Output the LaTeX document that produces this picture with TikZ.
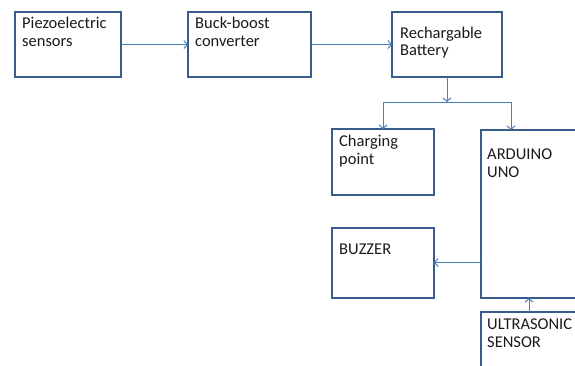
\documentclass[tikz,border=0pt]{standalone}
\usepackage{fontspec}
\setmainfont{Carlito}
\usetikzlibrary{arrows.meta}
\definecolor{boxc}{HTML}{385D8A}
\definecolor{arrc}{HTML}{4A7EBB}
\definecolor{txtc}{HTML}{1A1A1A}
\begin{document}
\begin{tikzpicture}[x=1pt,y=-1pt,
  box/.style={draw=boxc,line width=2pt,anchor=north west,inner sep=0pt,outer sep=0pt},
  lbl/.style={anchor=base west,inner sep=0pt,align=left,text=txtc,
    font=\fontsize{16.5}{17.5}\selectfont},
  arr/.style={draw=arrc,line width=1pt,-{Straight Barb[length=3.5pt,width=8pt]}},
  ln/.style={draw=arrc,line width=1pt}]
\useasboundingbox (0,0) rectangle (575,365);
\clip (0,0) rectangle (575,365);
% boxes
\node[box,minimum width=106pt,minimum height=65pt] (p) at (15,12) {};
\node[box,minimum width=123pt,minimum height=65pt] (b) at (188,12) {};
\node[box,minimum width=110pt,minimum height=65pt] (r) at (392,12) {};
\node[box,minimum width=102pt,minimum height=66pt] (c) at (332,129) {};
\node[box,minimum width=120pt,minimum height=168pt] (a) at (481,130) {};
\node[box,minimum width=102pt,minimum height=70pt] (z) at (332,227.5) {};
\node[box,minimum width=120pt,minimum height=90pt] (u) at (481,312) {};
% labels (base = baseline of last line)
\node[lbl] (pt) at (22,46) {Piezoelectric\\sensors};
\node[lbl] (bt) at (195,46) {Buck-boost\\converter};
\node[lbl] (rt) at (400,55.5) {Rechargable\\Battery};
\node[lbl] (ct) at (339,164) {Charging\\point};
\node[lbl] (at) at (487,177) {ARDUINO\\UNO};
\node[lbl] (zt) at (339,254) {BUZZER};
\node[lbl] (ut) at (487,347) {ULTRASONIC\\SENSOR};
% connectors
\draw[arr] (p) -- (b);
\draw[arr] (b) -- (r);
\coordinate (j) at (447,102);
\coordinate (cj) at (383,102);
\coordinate (aj) at (511,102);
\draw[arr] (r.south) -- (j);
\draw[ln] (cj) -- (aj);
\draw[arr] (cj) -- (c.north);
\draw[arr] (aj) -- (aj |- a.north);
\draw[arr] (a.west |- z.east) -- (z.east);
\coordinate (uj) at (529,312);
\draw[arr] (uj) -- (uj |- a.south);
\end{tikzpicture}
\end{document}
